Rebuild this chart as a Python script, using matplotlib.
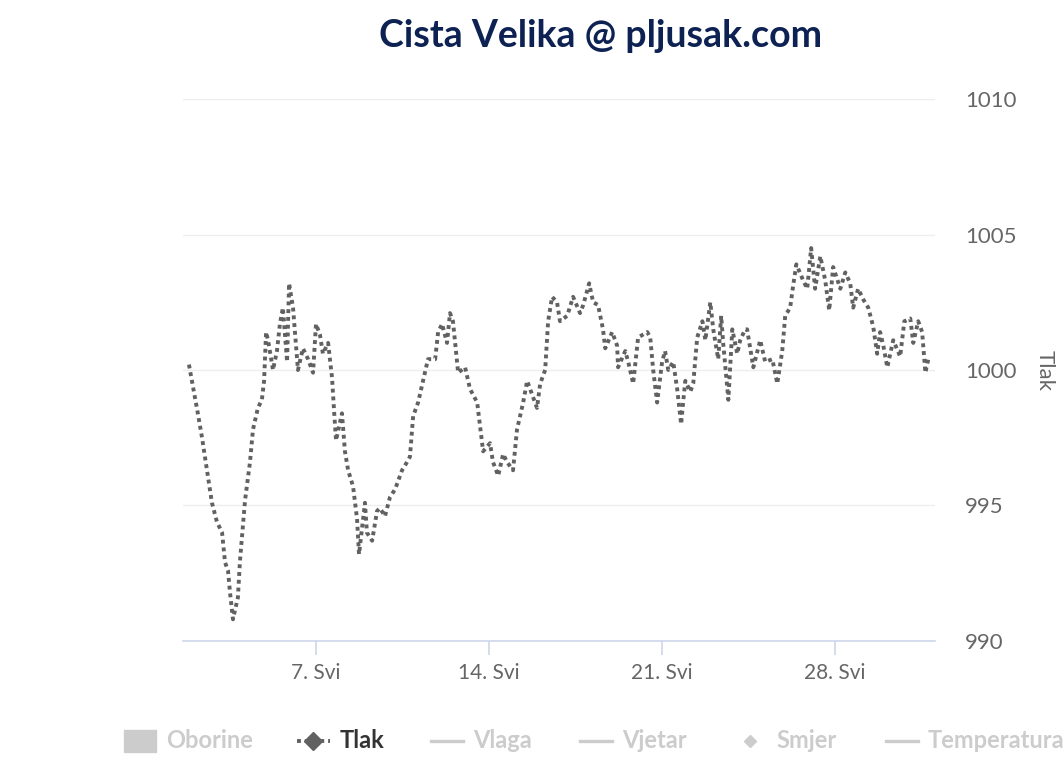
import numpy as np
import matplotlib.pyplot as plt
from matplotlib.lines import Line2D
from matplotlib.patches import Rectangle

# tlak (hPa) po danu u mjesecu (svibanj)
dan = [1.86, 2.02, 2.22, 2.39, 2.59, 2.79, 2.99, 3.20, 3.32, 3.44, 3.52, 3.64, 3.84, 3.92,
       4.13, 4.33, 4.45, 4.65, 4.81, 4.90, 4.98, 5.06, 5.26, 5.42, 5.54, 5.66, 5.83, 5.91,
       6.07, 6.27, 6.47, 6.68, 6.88, 7.00, 7.16, 7.28, 7.49, 7.65, 7.73, 7.81, 8.05, 8.17,
       8.30, 8.50, 8.66, 8.74, 8.98, 9.06, 9.27, 9.47, 9.59, 9.79, 9.99, 10.20, 10.48, 10.68,
       10.80, 10.93, 11.13, 11.33, 11.53, 11.82, 11.94, 12.10, 12.30, 12.42, 12.54, 12.67,
       12.75, 13.03, 13.23, 13.52, 13.64, 13.76, 14.04, 14.16, 14.37, 14.57, 14.73, 14.97,
       15.13, 15.38, 15.54, 15.78, 15.94, 16.07, 16.27, 16.39, 16.55, 16.75, 16.87, 17.16,
       17.40, 17.68, 17.81, 18.05, 18.21, 18.41, 18.61, 18.70, 18.98, 19.18, 19.22, 19.51,
       19.63, 19.83, 20.03, 20.40, 20.52, 20.64, 20.80, 21.00, 21.12, 21.25, 21.45, 21.61,
       21.77, 21.86, 21.94, 22.14, 22.26, 22.42, 22.63, 22.75, 22.95, 23.07, 23.27, 23.39,
       23.47, 23.68, 23.84, 24.04, 24.16, 24.36, 24.44, 24.69, 24.97, 25.17, 25.46, 25.66,
       25.86, 25.98, 26.18, 26.30, 26.43, 26.71, 26.87, 27.03, 27.19, 27.40, 27.60, 27.76,
       27.92, 28.21, 28.41, 28.61, 28.73, 28.93, 29.14, 29.34, 29.54, 29.70, 29.82, 29.95,
       30.11, 30.35, 30.63, 30.80, 31.04, 31.16, 31.36, 31.52, 31.65, 31.77]
tlak = [1000.2, 999.4, 998.4, 997.5, 996.3, 995.1, 994.4, 994.0, 992.9, 992.6, 991.8, 990.8, 991.6, 992.9,
        995.2, 996.6, 997.8, 998.6, 998.9, 999.6, 1001.4, 1001.1, 1000.0, 1000.7, 1001.7, 1002.3, 1000.3, 1003.2,
        1002.3, 1000.0, 1000.8, 1000.4, 999.9, 1001.7, 1001.3, 1000.6, 1001.0, 999.7, 998.5, 997.4, 998.4, 997.0,
        996.3, 995.7, 994.5, 993.2, 995.1, 994.0, 993.7, 994.8, 994.9, 994.6, 995.3, 995.6, 996.3, 996.6,
        996.8, 998.3, 998.8, 999.6, 1000.4, 1000.4, 1001.4, 1001.7, 1001.0, 1002.1, 1001.8, 1000.6,
        999.9, 1000.1, 999.3, 998.8, 997.9, 997.0, 997.3, 996.6, 996.1, 996.9, 996.6, 996.3,
        997.8, 998.8, 999.6, 999.0, 998.6, 999.5, 1000.0, 1001.8, 1002.7, 1002.5, 1001.8, 1002.0,
        1002.7, 1002.1, 1002.4, 1003.2, 1002.5, 1002.4, 1001.5, 1000.8, 1001.4, 1000.9, 1000.1, 1000.7,
        1000.3, 999.5, 1001.2, 1001.4, 1001.2, 1000.0, 998.8, 1000.3, 1000.7, 1000.0, 1000.3, 999.3,
        998.0, 998.9, 999.6, 999.2, 999.5, 1001.2, 1001.8, 1001.1, 1002.5, 1001.5, 1000.4, 1002.0,
        1001.0, 998.9, 1001.5, 1000.6, 1001.1, 1001.5, 1001.5, 1000.1, 1001.1, 1000.3, 1000.4, 999.5,
        1000.7, 1002.0, 1002.3, 1003.1, 1003.9, 1003.3, 1003.0, 1004.5, 1003.0, 1004.2, 1003.3, 1002.2,
        1003.8, 1003.0, 1003.6, 1003.2, 1002.3, 1003.0, 1002.6, 1002.3, 1001.6, 1000.6, 1001.4, 1000.9,
        1000.1, 1001.1, 1000.5, 1001.8, 1001.9, 1001.0, 1001.8, 1001.4, 999.9, 1000.4]

x_tickovi = [7, 14, 21, 28]
x_oznake = ["7. Svi", "14. Svi", "21. Svi", "28. Svi"]
y_tickovi = [990, 995, 1000, 1005, 1010]

plt.rcParams['font.family'] = ['Lato', 'DejaVu Sans']

fig = plt.figure(figsize=(10.64, 7.6), dpi=100)
ax = fig.add_axes([0.172, 0.1566, 0.707, 0.7131])

ax.plot(dan, tlak, linestyle=(0, (1, 1)), color="#616161", linewidth=2.8, zorder=3)

ax.set_xlim(1.62, 32.05)
ax.set_ylim(990, 1010)
ax.set_xticks(x_tickovi)
ax.set_xticklabels(x_oznake)
ax.set_yticks(y_tickovi)

ax.yaxis.tick_right()
ax.yaxis.set_label_position("right")
ax.set_ylabel("Tlak", rotation=270, color="#666666", fontsize=16, va="center")
ax.yaxis.set_label_coords(1.146, 0.5)

for g in y_tickovi[1:]:
    ax.axhline(g, color="#eeeeee", linewidth=1, zorder=1)

for s in ["top", "left", "right"]:
    ax.spines[s].set_visible(False)
ax.spines["bottom"].set_color("#ccd6eb")
ax.spines["bottom"].set_linewidth(1.2)

ax.tick_params(axis="x", colors="#666666", labelsize=15, length=10, width=1.2, pad=6)
ax.tick_params(axis="x", color="#ccd6eb")
ax.tick_params(axis="y", colors="#666666", labelsize=16, length=0, pad=21.5)

fig.text(0.564, 0.953, "Cista Velika @ pljusak.com", ha="center", va="center",
         fontsize=27, fontweight="bold", color="#0d2253")

# legenda na dnu
ly = 1 - 741 / 760
siva = "#cccccc"
stavke = ["Oborine", "Tlak", "Vlaga", "Vjetar", "Smjer", "Temperatura"]
tekst_x = [166, 340, 473, 622, 776, 928]
for naziv, tx in zip(stavke, tekst_x):
    fig.text(tx / 1064, ly, naziv, ha="left", va="center", fontsize=17, fontweight="bold",
             color="#333333" if naziv == "Tlak" else siva)

fig.patches.append(Rectangle((124 / 1064, (760 - 752) / 760), 32 / 1064, 22 / 760,
                             transform=fig.transFigure, color=siva, figure=fig))
fig.lines.append(Line2D([297 / 1064, 330 / 1064], [ly, ly], transform=fig.transFigure,
                        linestyle=(0, (1, 1)), color="#616161", linewidth=2.8))
fig.lines.append(Line2D([313 / 1064], [ly], transform=fig.transFigure, marker="D",
                        markersize=9, color="#616161", linestyle="none"))
for x0 in [431, 580, 886]:
    fig.lines.append(Line2D([x0 / 1064, (x0 + 32) / 1064], [ly, ly], transform=fig.transFigure,
                            color=siva, linewidth=2.4))
fig.lines.append(Line2D([750 / 1064], [ly], transform=fig.transFigure, marker="D",
                        markersize=6, color=siva, linestyle="none"))

fig.savefig("out.png", dpi=100)
